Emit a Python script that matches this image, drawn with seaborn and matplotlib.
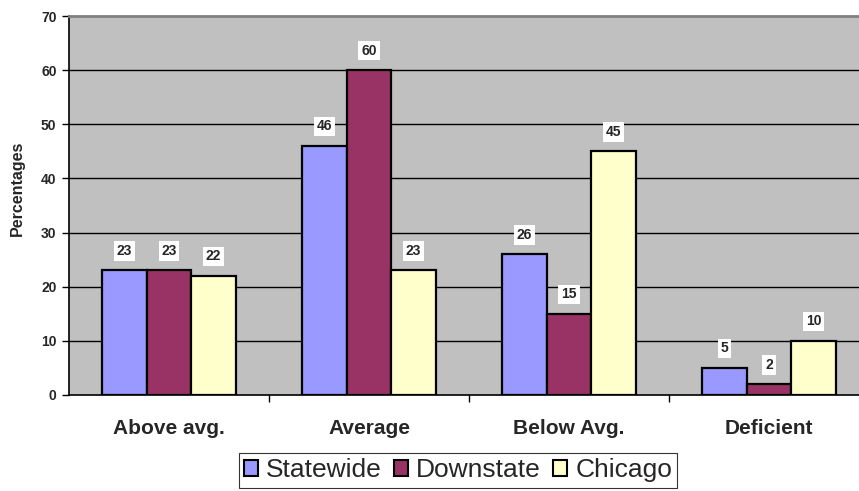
import matplotlib
matplotlib.use("Agg")
import matplotlib.pyplot as plt
import seaborn as sns
import pandas as pd
from matplotlib.patches import Patch

categories = ["Above avg.", "Average", "Below Avg.", "Deficient"]
series = ["Statewide", "Downstate", "Chicago"]
statewide = [23, 46, 26, 5]
downstate = [23, 60, 15, 2]
chicago = [22, 23, 45, 10]
colors = ["#9999FF", "#993366", "#FFFFCC"]
y_ticks = [0, 10, 20, 30, 40, 50, 60, 70]

df = pd.DataFrame({
    "category": categories * 3,
    "series": [s for s in series for _ in categories],
    "value": statewide + downstate + chicago,
})

sns.set_style("white")
plt.rcParams["font.family"] = ["Liberation Sans", "DejaVu Sans"]

fig = plt.figure(figsize=(8.59, 4.91), dpi=100)
ax = fig.add_axes([69 / 859, 1 - 395 / 491, 800 / 859, 379 / 491])
ax.set_facecolor("#C0C0C0")

sns.barplot(data=df, x="category", y="value", hue="series", order=categories,
            hue_order=series, palette=colors, width=0.667, gap=0,
            edgecolor="black", linewidth=1.6, saturation=1, ax=ax, legend=False,
            zorder=3)

ax.set_ylim(0, 70)
ax.set_xlim(-0.5, 3.5)
ax.set_yticks(y_ticks)
ax.set_yticklabels([str(t) for t in y_ticks], fontsize=10, fontweight="bold")
for t in y_ticks[1:-1]:
    ax.axhline(t, color="black", lw=1.0, zorder=1)

# category labels centred, tick marks between groups
ax.set_xticks([0, 1, 2, 3])
ax.set_xticklabels(categories, fontsize=15, fontweight="bold")
ax.tick_params(axis="x", length=0, pad=17)
ax.set_xticks([0.5, 1.5, 2.5], minor=True)
ax.tick_params(axis="x", which="minor", length=5, width=1, color="black",
               direction="out", bottom=True)
ax.tick_params(axis="y", length=5, width=1, color="black", direction="out",
               left=True, pad=4)

ax.set_xlabel("")
ax.set_ylabel("Percentages", fontsize=11.5, fontweight="bold")
ax.yaxis.set_label_coords(-0.055, 0.545)

for side in ["left", "bottom"]:
    ax.spines[side].set_color("black")
    ax.spines[side].set_linewidth(1.2)
ax.spines["top"].set_color("#808080")
ax.spines["top"].set_linewidth(2)
ax.spines["right"].set_visible(False)

for container in ax.containers:
    for bar in container:
        h = bar.get_height()
        ax.annotate(f"{h:.0f}", (bar.get_x() + bar.get_width() / 2, h),
                    xytext=(0, 14), textcoords="offset points",
                    ha="center", va="center", fontsize=10, fontweight="bold",
                    bbox=dict(boxstyle="square,pad=0.2", fc="white", ec="none"),
                    zorder=5)

handles = [Patch(facecolor=c, edgecolor="black", linewidth=1.5, label=s)
           for c, s in zip(colors, series)]
leg = fig.legend(handles=handles, loc="upper center",
                 bbox_to_anchor=(458 / 859, 1 - 453 / 491),
                 ncol=3, fontsize=19, frameon=True, fancybox=False,
                 handlelength=0.55, handleheight=0.55, handletextpad=0.3,
                 columnspacing=0.45, borderpad=0.2, borderaxespad=0.0)
leg.get_frame().set_edgecolor("black")
leg.get_frame().set_linewidth(0.8)

fig.savefig("out.png", dpi=100)
